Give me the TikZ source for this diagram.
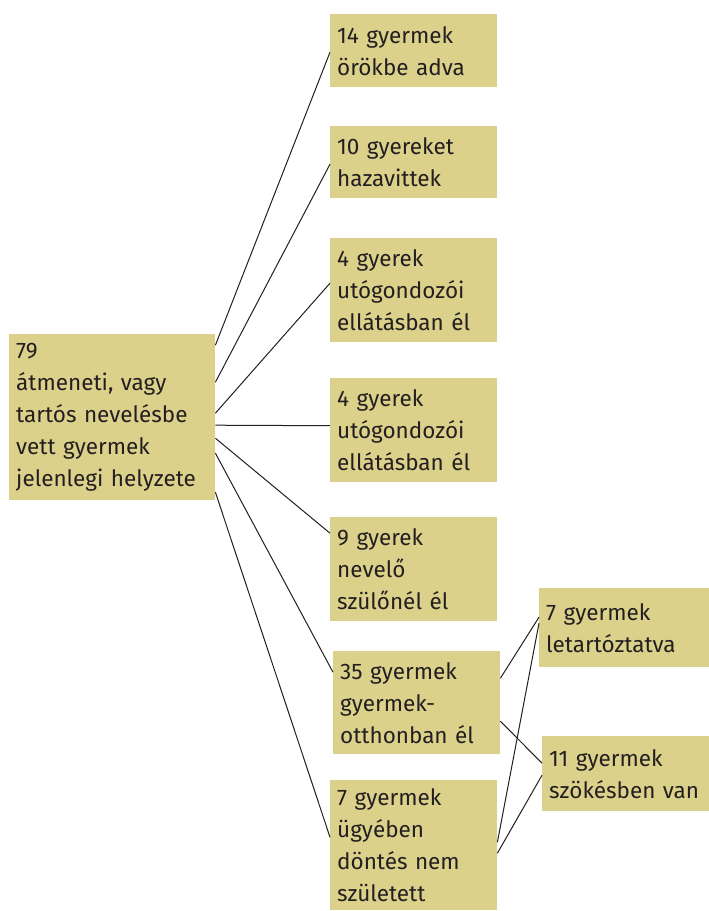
\documentclass[tikz,border=0pt]{standalone}
\usepackage{fontspec}
\setmainfont{Fira Sans}
\definecolor{boxfill}{RGB}{219,209,138}
\definecolor{inkgray}{RGB}{35,31,32}

\begin{document}
\begin{tikzpicture}[x=1pt,y=-1pt,
    box/.style={fill=boxfill, text=inkgray, align=left, anchor=north west,
      inner xsep=7pt, inner ysep=0pt, font=\fontsize{22.5}{32}\selectfont},
    link/.style={draw=inkgray, line width=1pt}]

      \useasboundingbox (0,0) rectangle (709,911);

      % Root
      \node[box, text width=192pt, minimum height=166pt] (main) at (9,334)
        {79\\átmeneti, vagy\\tartós nevelésbe\\vett gyermek\\jelenlegi helyzete};

      % Outcomes
      \node[box, text width=153pt, minimum height=73pt] (adopted) at (330,14)
        {14 gyermek\\örökbe adva};
      \node[box, text width=153pt, minimum height=72pt] (home) at (330,126)
        {10 gyereket\\hazavittek};
      \node[box, text width=153pt, minimum height=104pt] (aftercareA) at (330,238)
        {4 gyerek\\utógondozói\\ellátásban él};
      \node[box, text width=153pt, minimum height=104pt] (aftercareB) at (330,378)
        {4 gyerek\\utógondozói\\ellátásban él};
      \node[box, text width=153pt, minimum height=104pt] (fosterparent) at (330,517)
        {9 gyerek\\nevelő\\szülőnél él};
      \node[box, text width=153pt, minimum height=103pt] (childhome) at (333,651)
        {35 gyermek\\gyermek-\\otthonban él};
      \node[box, text width=153pt, minimum height=130pt] (undecided) at (330,780)
        {7 gyermek\\ügyében\\döntés nem\\született};

      % Sub-outcomes
      \node[box, text width=156pt, minimum height=79pt] (arrested) at (539,588)
        {7 gyermek\\letartóztatva};
      \node[box, text width=153pt, minimum height=75pt] (runaway) at (542,736)
        {11 gyermek\\szökésben van};

      % Root links
      \draw[link] ([yshift=72pt]main.east) -- ([yshift=-1.5pt]adopted.west);
      \draw[link] ([yshift=35pt]main.east) -- ([yshift=-2pt]home.west);
      \draw[link] ([yshift=4pt]main.east) -- ([yshift=7pt]aftercareA.west);
      \draw[link] ([yshift=-8pt]main.east) -- ([yshift=4.5pt]aftercareB.west);
      \draw[link] ([yshift=-21pt]main.east) -- ([yshift=36pt]fosterparent.west);
      \draw[link] ([yshift=-36pt]main.east) -- ([yshift=30.5pt]childhome.west);
      \draw[link] ([yshift=-75pt]main.east) -- ([yshift=8pt]undecided.west);

      % Second level links
      \draw[link] ([yshift=24.5pt]childhome.east) -- ([yshift=10.5pt]arrested.west);
      \draw[link] ([yshift=-18.5pt]childhome.east) -- ([yshift=10.5pt]runaway.west);
      \draw[link] ([yshift=3pt]undecided.east) -- ([yshift=4.5pt]arrested.west);
      \draw[link] ([yshift=-8pt]undecided.east) -- ([yshift=-1.5pt]runaway.west);

    \end{tikzpicture}
\end{document}
